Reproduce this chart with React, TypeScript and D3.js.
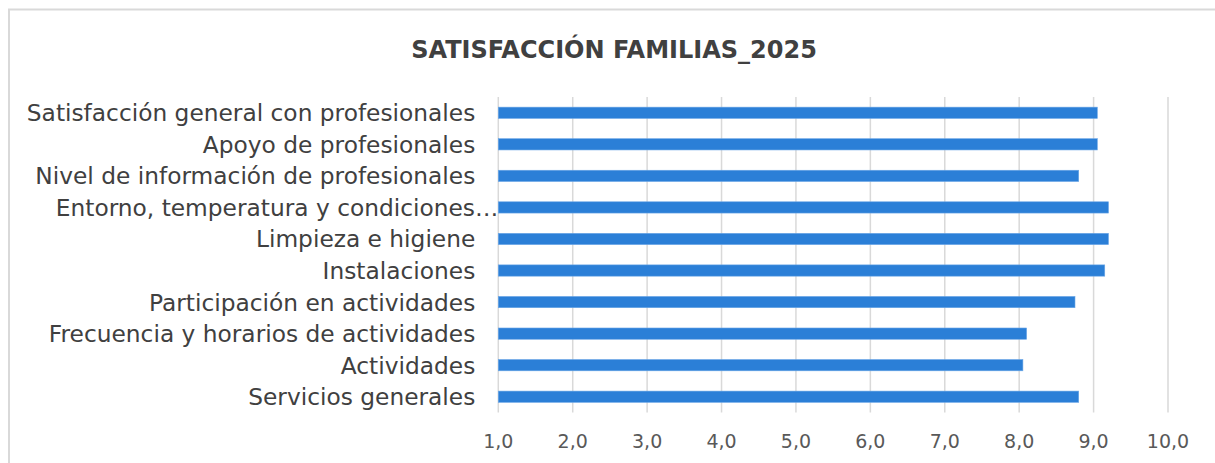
import React from "react";
import * as d3 from "d3";

const title = "SATISFACCIÓN FAMILIAS_2025";
const categories = [
  "Satisfacción general con profesionales",
  "Apoyo de profesionales",
  "Nivel de información de profesionales",
  "Entorno, temperatura y condiciones…",
  "Limpieza e higiene",
  "Instalaciones",
  "Participación en actividades",
  "Frecuencia y horarios de actividades",
  "Actividades",
  "Servicios generales",
];
const values = [9.05, 9.05, 8.8, 9.2, 9.2, 9.15, 8.75, 8.1, 8.05, 8.8];
const ticks = [1, 2, 3, 4, 5, 6, 7, 8, 9, 10];
const tickLabels = ["1,0", "2,0", "3,0", "4,0", "5,0", "6,0", "7,0", "8,0", "9,0", "10,0"];

const W = 1215;
const H = 463;
const FONT = "'DejaVu Sans', sans-serif";

export default function App() {
  const x = d3.scaleLinear().domain([1, 10]).range([498.3, 1168]);
  const y = d3
    .scaleBand<string>()
    .domain(categories)
    .range([97, 412.5])
    .paddingInner(0.643)
    .paddingOuter(0.3215);
  const bw = y.bandwidth();
  const [y0, y1] = y.range();

  return (
    <svg
      width={W}
      height={H}
      style={{ position: "absolute", left: 0, top: 0, background: "#fff" }}
      fontFamily={FONT}
    >
      <rect x={0} y={0} width={W} height={H} fill="#fff" />
      {/* chart frame */}
      <path d={`M9,${H + 5} V9.5 H${W + 5}`} fill="none" stroke="#d9d9d9" strokeWidth={2} />
      <text
        x={614}
        y={57.5}
        textAnchor="middle"
        fontSize={24}
        fontWeight="bold"
        fill="#404040"
      >
        {title}
      </text>
      {/* gridlines */}
      {ticks.map((t) => (
        <line
          key={"g" + t}
          x1={x(t)}
          x2={x(t)}
          y1={y0}
          y2={y1}
          stroke="#d9d9d9"
          strokeWidth={1.5}
        />
      ))}
      {/* bars */}
      {categories.map((c, i) => (
        <rect
          key={"b" + c}
          x={x(1)}
          y={y(c)!}
          width={x(values[i]) - x(1)}
          height={bw}
          fill="#2b7fd7"
          stroke="#6aa6e6"
          strokeWidth={0.6}
        />
      ))}
      {/* category labels */}
      {categories.map((c) => {
        const truncated = c.endsWith("…");
        return (
          <text
            key={"l" + c}
            x={truncated ? x(1) : x(1) - 23}
            y={y(c)! + bw / 2 + 8.5}
            textAnchor="end"
            fontSize={23.3}
            fill="#404040"
          >
            {c}
          </text>
        );
      })}
      {/* tick labels */}
      {ticks.map((t, i) => (
        <text
          key={"t" + t}
          x={x(t)}
          y={448}
          textAnchor="middle"
          fontSize={19}
          fill="#595959"
        >
          {tickLabels[i]}
        </text>
      ))}
    </svg>
  );
}
